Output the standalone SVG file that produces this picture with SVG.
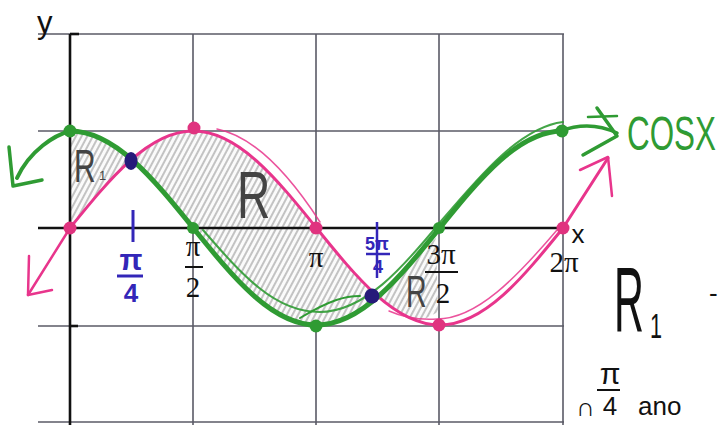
<svg xmlns="http://www.w3.org/2000/svg" width="721" height="425" viewBox="0 0 721 425">
<style>
.grid{stroke:#5a5a66;stroke-width:1.6;fill:none}
.axis{stroke:#111;stroke-width:2.6;fill:none}
.green{stroke:#2f9b33;fill:none;stroke-linecap:round;stroke-linejoin:round}
.pink{stroke:#e8358c;fill:none;stroke-linecap:round;stroke-linejoin:round}
.gdot{fill:#2f9b33}
.pdot{fill:#e0337f}
.bdot{fill:#261a7a}
.lbl{font-family:"Liberation Serif",serif;font-size:29px;fill:#111;text-anchor:middle}
.hand{font-family:"Liberation Sans",sans-serif;fill:#111}
.blue{font-family:"Liberation Sans",sans-serif;font-weight:bold;fill:#3326b8;text-anchor:middle}
.rg{font-family:"Liberation Sans",sans-serif;fill:#444}
.shade{fill:url(#hatch);stroke:none}
</style>
<defs>
<pattern id="hatch" width="5" height="10" patternUnits="userSpaceOnUse" patternTransform="rotate(28)">
<rect width="5" height="10" fill="#fbfbfb"/>
<line x1="1" y1="0" x2="1" y2="10" stroke="#8c8c8c" stroke-width="1"/>
</pattern>
</defs>

<g id="grid">
<line class="grid" x1="38" y1="34" x2="564" y2="34"/>
<line class="grid" x1="38" y1="131" x2="564" y2="131"/>
<line class="grid" x1="38" y1="326" x2="564" y2="326"/>
<line class="grid" x1="38" y1="422" x2="564" y2="422"/>
<line class="grid" x1="193" y1="34" x2="193" y2="425"/>
<line class="grid" x1="316" y1="34" x2="316" y2="425"/>
<line class="grid" x1="439" y1="34" x2="439" y2="425"/>
<line class="grid" x1="563" y1="34" x2="563" y2="425"/>
</g>

<g id="shading">
<polygon id="region-R" class="shade" points="131.6,159.4 152.2,144 172.7,134.3 193.2,131 213.8,134.3 234.3,144 254.9,159.4 275.4,179.5 296,202.9 316.5,228 337,253.1 357.6,276.5 378.1,296.6 357.6,312 337,321.7 316.5,325 296,321.7 275.4,312 254.9,296.6 234.3,276.5 213.8,253.1 193.2,228 172.7,202.9 152.2,179.5"/>
<polygon id="region-R1" class="shade" points="70,131 90.5,134.3 111.1,144 131.6,159.4 111.1,179.5 90.5,202.9 70,228"/>
<polygon id="region-R2" class="shade" points="378.1,296.6 398.6,276.5 419.2,253.1 436,238 438,312 419.2,321.7 398.6,312"/>
</g>

<g id="axes">
<line class="axis" x1="38" y1="228" x2="565" y2="228"/>
<line class="axis" x1="70" y1="34" x2="70" y2="425"/>
<line class="axis" x1="70" y1="34" x2="79" y2="34"/>
<line class="axis" x1="70" y1="326" x2="78" y2="326"/>
</g>

<g id="connectors">
<g id="sin-curve">
<path class="pink" stroke-width="3" d="M70,228 C110.2,178.3 148.6,131 193.25,131 C237.9,131 276.3,178.3 316.5,228 C356.7,277.7 395.1,325 439.75,325 C484.4,325 522.8,277.7 563,228 L608,158"/>
<path class="pink" stroke-width="1.5" opacity="0.85" transform="translate(2,-4)" d="M215,133 C250,140 285,175 318,226"/>
<path class="pink" stroke-width="1.5" opacity="0.85" transform="translate(-3,-3)" d="M392,314 C410,322 425,323 440,322 C480,322 520,280 560,233"/>
<path class="pink" stroke-width="2.5" d="M70,228 L28,295"/>
<polyline class="pink" stroke-width="2.5" points="29,256 28,295 52,290"/>
<polyline class="pink" stroke-width="2.5" points="580,170 608,157 612,196"/>
</g>
<g id="cos-curve">
<path class="green" stroke-width="5" d="M70,131 C114.65,131 153.05,178.3 193.25,228 C233.45,277.7 271.85,325 316.5,325 C361.15,325 399.55,277.7 439.75,228 C479.95,178.3 518.35,131 563,131"/>
<path class="green" stroke-width="2" opacity="0.9" transform="translate(3,-6)" d="M200,236 C240,282 272,318 316.5,318 C361,318 399,275 439,226 C478,180 518,133 560,128"/>
<path class="green" stroke-width="2" d="M300,318 C330,300 345,296 360,296"/>
<path class="green" stroke-width="4" d="M70,131 C55,135 30,150 17,178"/>
<polyline class="green" stroke-width="3.5" points="9,147 13,186 42,180"/>
<path class="green" stroke-width="3.5" d="M560,131 Q590,120 617,133"/>
<line class="green" stroke-width="2.5" x1="588" y1="117" x2="617" y2="116"/>
<polyline class="green" stroke-width="3.5" points="597,108 617,136 583,155"/>
</g>
</g>

<g id="points">
<circle id="g0" class="gdot" cx="70" cy="131" r="6.5"/>
<circle id="g1" class="gdot" cx="193" cy="228" r="6"/>
<circle id="g2" class="gdot" cx="316" cy="326" r="6.5"/>
<circle id="g3" class="gdot" cx="439" cy="228" r="6"/>
<circle id="g4" class="gdot" cx="562" cy="131" r="6.5"/>
<circle id="p0" class="pdot" cx="70" cy="228" r="6.5"/>
<circle id="p1" class="pdot" cx="194" cy="128" r="6.5"/>
<circle id="p2" class="pdot" cx="316" cy="228" r="6.5"/>
<circle id="p3" class="pdot" cx="439" cy="325" r="6.5"/>
<circle id="p4" class="pdot" cx="563" cy="228" r="6.5"/>
<ellipse id="b1" class="bdot" cx="131" cy="161" rx="6.5" ry="9"/>
<ellipse id="b2" class="bdot" cx="372" cy="296" rx="7.5" ry="7.5"/>
</g>

<g id="labels">
<text class="hand" x="37" y="33" font-size="31">y</text>
<text class="hand" x="578" y="243" font-size="26" text-anchor="middle">x</text>
<text class="lbl" x="193" y="256">π</text>
<line x1="185" y1="267" x2="203" y2="267" stroke="#111" stroke-width="2"/>
<text class="lbl" x="193" y="297">2</text>
<text class="lbl" x="316" y="267">π</text>
<text class="lbl" x="441" y="264">3π</text>
<line x1="425" y1="272" x2="458" y2="272" stroke="#111" stroke-width="2"/>
<text class="lbl" x="443" y="303">2</text>
<text class="lbl" x="564" y="272">2π</text>

<line x1="133" y1="210" x2="133" y2="242" stroke="#3326b8" stroke-width="3"/>
<text class="blue" x="131" y="270" font-size="30">π</text>
<line x1="117" y1="276" x2="143" y2="276" stroke="#3326b8" stroke-width="3"/>
<text class="blue" x="131" y="302" font-size="26">4</text>

<line x1="377" y1="222" x2="377" y2="278" stroke="#3326b8" stroke-width="2.5"/>
<text class="blue" x="377" y="250" font-size="18">5π</text>
<line x1="366" y1="254" x2="390" y2="254" stroke="#3326b8" stroke-width="2.5"/>
<text class="blue" x="378" y="273" font-size="18">4</text>

<text class="rg" transform="translate(237,218) scale(0.7,1)" font-size="66">R</text>
<text class="rg" transform="translate(74,182) scale(0.65,1)" font-size="46">R</text>
<text class="rg" x="99" y="180" font-size="13">1</text>
<text class="rg" transform="translate(406,307) scale(0.65,1)" font-size="44" fill="#555">R</text>

<text font-family="Liberation Sans, sans-serif" fill="#2f9b33" transform="translate(627,150) scale(0.64,1)" font-size="49">COSX</text>

<text class="hand" transform="translate(614,332) scale(0.45,1)" font-size="92">R</text>
<text class="hand" transform="translate(650,338) scale(0.6,1)" font-size="36">1</text>
<text class="hand" x="709" y="302" font-size="26">-</text>

<text class="hand" x="610" y="384" font-size="30" text-anchor="middle">π</text>
<line x1="597" y1="390" x2="620" y2="390" stroke="#111" stroke-width="2"/>
<text class="hand" x="610" y="415" font-size="26" text-anchor="middle">4</text>
<text class="hand" x="576" y="416" font-size="26">∩</text>
<text class="hand" x="638" y="415" font-size="26">ano</text>
</g>
</svg>
